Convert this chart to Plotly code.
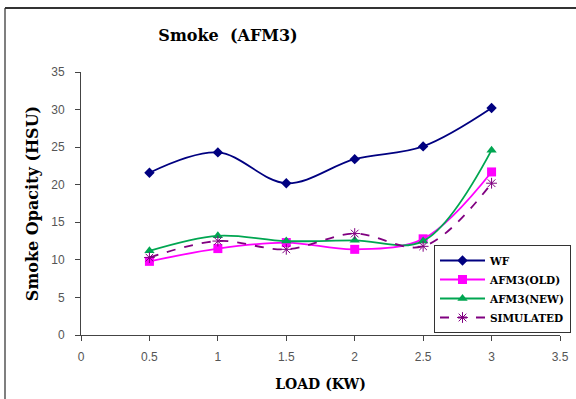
import plotly.graph_objects as go

load = [0.5, 1.0, 1.5, 2.0, 2.5, 3.0]
wf = [21.6, 24.3, 20.2, 23.4, 25.1, 30.2]
afm3_old = [9.8, 11.5, 12.3, 11.4, 12.8, 21.7]
afm3_new = [11.2, 13.2, 12.5, 12.6, 12.5, 24.6]
simulated = [10.3, 12.5, 11.4, 13.5, 11.8, 20.2]

series_names = ["<b>WF</b>", "<b>AFM3(OLD)</b>", "<b>AFM3(NEW)</b>", "<b>SIMULATED</b>"]
x_ticks = [0, 0.5, 1, 1.5, 2, 2.5, 3, 3.5]
x_tick_text = ["0", "0.5", "1", "1.5", "2", "2.5", "3", "3.5"]
y_ticks = [0, 5, 10, 15, 20, 25, 30, 35]

fig = go.Figure()
fig.add_trace(go.Scatter(x=load, y=wf, name=series_names[0], mode="lines+markers",
                         line=dict(color="#000080", width=1.8, shape="spline", smoothing=1),
                         marker=dict(symbol="diamond", size=8, color="#000080")))
fig.add_trace(go.Scatter(x=load, y=afm3_old, name=series_names[1], mode="lines+markers",
                         line=dict(color="#FF00FF", width=1.8, shape="spline", smoothing=1),
                         marker=dict(symbol="square", size=9, color="#FF00FF")))
fig.add_trace(go.Scatter(x=load, y=afm3_new, name=series_names[2], mode="lines+markers",
                         line=dict(color="#00A651", width=1.8, shape="spline", smoothing=1),
                         marker=dict(symbol="triangle-up", size=9, color="#00A651")))
fig.add_trace(go.Scatter(x=load, y=simulated, name=series_names[3], mode="lines+markers",
                         line=dict(color="#800080", width=1.8, dash="dash", shape="spline", smoothing=1),
                         marker=dict(symbol="asterisk-open", size=9, color="#800080",
                                     line=dict(color="#800080", width=1))))

axis_font = dict(family="Liberation Sans, Arial, sans-serif", size=12, color="#555555")

fig.update_layout(
    width=576, height=399,
    margin=dict(l=81, r=16, t=72, b=64, autoexpand=False),
    paper_bgcolor="white", plot_bgcolor="white",
    title=dict(text="<b>Smoke  (AFM3)</b>", x=228/576, xanchor="center", y=1 - 35/399, yanchor="middle",
               font=dict(family="DejaVu Serif, serif", size=16, color="black")),
    xaxis=dict(range=[0, 3.5], tickvals=x_ticks, ticktext=x_tick_text, showgrid=False, zeroline=False,
               showline=True, linecolor="#444444", linewidth=1, ticks="outside", ticklen=5,
               tickcolor="#444444", tickfont=axis_font, ticklabelstandoff=6,
               title=dict(text="<b>LOAD (KW)</b>",
                          font=dict(family="DejaVu Serif, serif", size=14, color="black"), standoff=15)),
    yaxis=dict(range=[0, 35], tickvals=y_ticks, showgrid=False, zeroline=False,
               showline=True, linecolor="#444444", linewidth=1, ticks="outside", ticklen=5,
               tickcolor="#444444", tickfont=axis_font, ticklabelstandoff=8,
               title=dict(text="<b>Smoke Opacity (HSU)</b>",
                          font=dict(family="DejaVu Serif, serif", size=16, color="black"), standoff=8)),
    legend=dict(x=(571 - 81) / 479, xanchor="right", y=(335 - 333) / 263, yanchor="bottom",
                bgcolor="white", bordercolor="#333333", borderwidth=1,
                font=dict(family="DejaVu Serif, serif", size=10.5, color="black"),
                tracegroupgap=0, itemwidth=45),
    showlegend=True,
)

fig.add_shape(type="line", xref="paper", yref="paper",
              x0=(5 - 81) / 479, x1=(5 - 81) / 479, y0=(335 - 8) / 263, y1=(335 - 400) / 263,
              line=dict(color="#555555", width=1.5))
fig.add_shape(type="line", xref="paper", yref="paper",
              x0=(5 - 81) / 479, x1=(577 - 81) / 479, y0=(335 - 8) / 263, y1=(335 - 8) / 263,
              line=dict(color="#333333", width=2))

fig.write_html("out.html")
